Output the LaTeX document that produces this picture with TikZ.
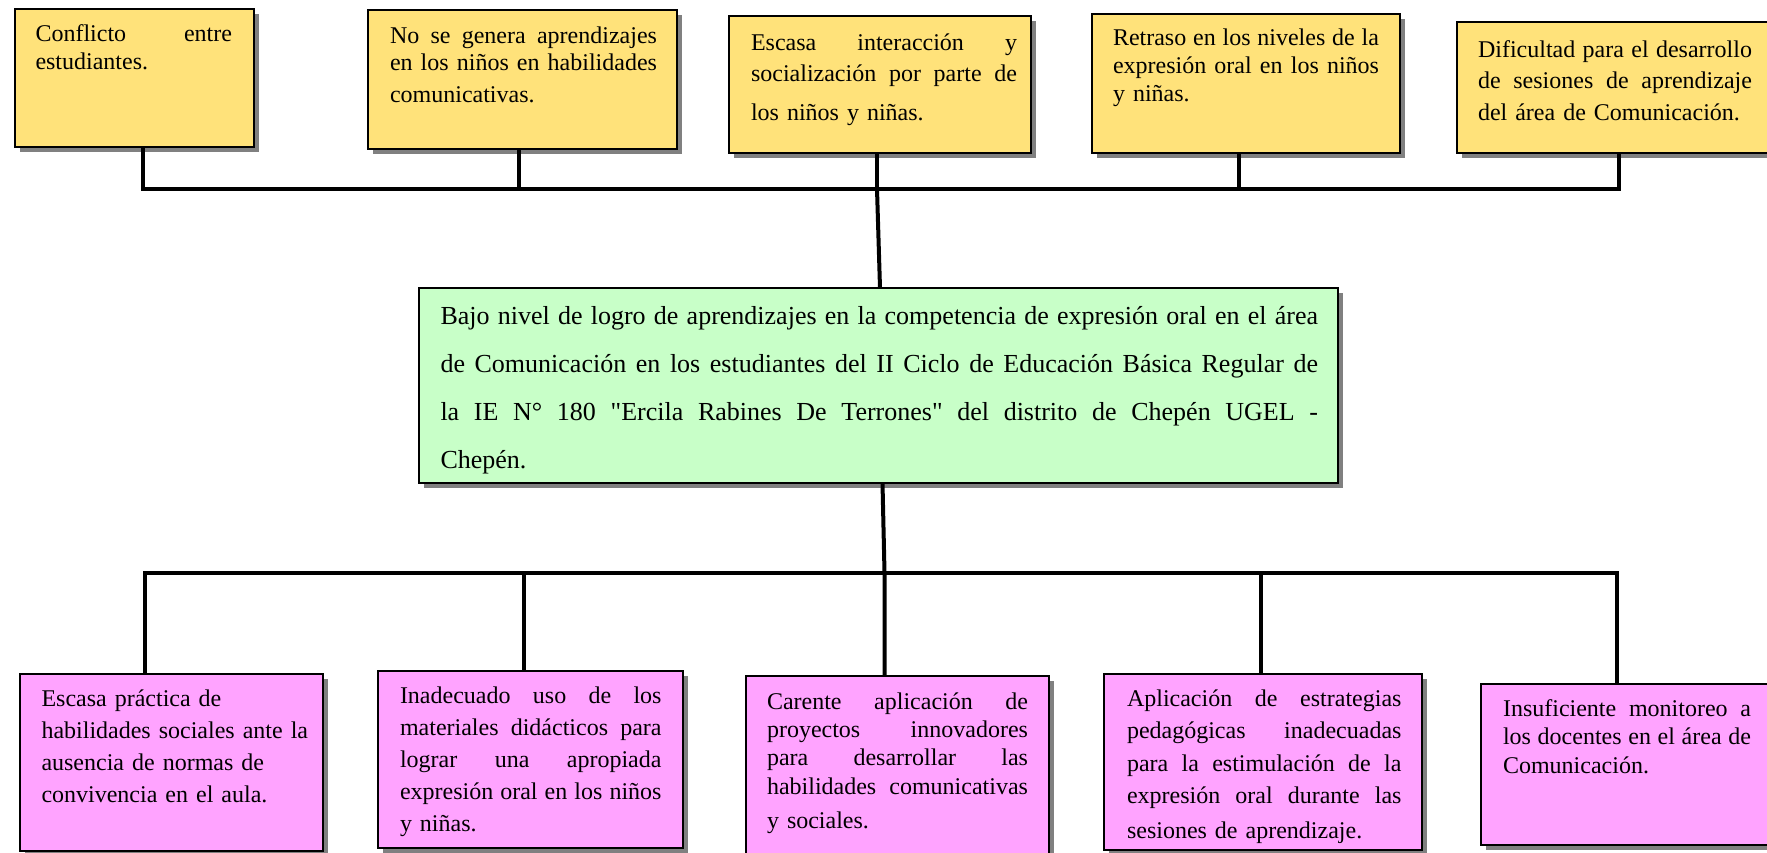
\documentclass[tikz,border=0pt]{standalone}
\usepackage{fontspec}
\setmainfont{Liberation Serif}[Ligatures=TeXOff]
\usetikzlibrary{shadows}
\definecolor{yel}{RGB}{255,226,122}
\definecolor{grn}{RGB}{200,255,200}
\definecolor{pnk}{RGB}{255,163,255}
\definecolor{shd}{RGB}{128,128,128}
\newcommand{\J}[1]{\leavevmode\hbox to\hsize{\spaceskip=0.25em plus 1fil minus 0.1em\xspaceskip=\spaceskip #1}}
\begin{document}
\begin{tikzpicture}[x=0.5pt,y=-0.5pt,
  box/.style={draw=black,line width=0.9pt,anchor=north west,inner sep=0pt,outer sep=0pt,
    drop shadow={shadow xshift=2.5pt,shadow yshift=-2.5pt,fill=shd,opacity=1}},
  lbl/.style={anchor=base west,inner sep=0pt,outer sep=0pt,align=left,font=\fontsize{12pt}{#1}\selectfont},
  conn/.style={line width=2pt},
  bus/.style={line width=2pt,line cap=rect}]
\fill[white] (0,0) rectangle (1767,852);
\useasboundingbox (0,0) rectangle (1767,852);

% top boxes
\node[box,fill=yel,minimum width=119.5pt,minimum height=69pt] (t1) at (15,9) {};
\node[box,fill=yel,minimum width=154.5pt,minimum height=69.5pt] (t2) at (368,10) {};
\node[box,fill=yel,minimum width=151pt,minimum height=68.5pt] (t3) at (729,16) {};
\node[box,fill=yel,minimum width=154pt,minimum height=69.5pt] (t4) at (1092,14) {};
\node[box,fill=yel,minimum width=171.5pt,minimum height=65.5pt] (t5) at (1457,22) {};

% central box
\node[box,fill=grn,minimum width=459.5pt,minimum height=97.5pt] (c) at (419,288) {};

% bottom boxes
\node[box,fill=pnk,minimum width=151.5pt,minimum height=88.5pt] (m1) at (20,674) {};
\node[box,fill=pnk,minimum width=152.5pt,minimum height=88.5pt] (m2) at (378,671) {};
\node[box,fill=pnk,minimum width=151.5pt,minimum height=97pt] (m3) at (746,676) {};
\node[box,fill=pnk,minimum width=159pt,minimum height=88pt] (m4) at (1104,674) {};
\node[box,fill=pnk,minimum width=159.5pt,minimum height=80.5pt] (m5) at (1481,684) {};

% labels
\node[lbl=14.4pt,text width=98.25pt] (lt1) at (35.5,41) {\J{Conflicto entre}\\estudiantes.};
\node[lbl=13.8pt,text width=133.5pt] (lt2) at (390,43) {\J{No se genera aprendizajes}\\\J{en los niños en habilidades}\\[2pt]comunicativas.};
\node[lbl=15.8pt,text width=133pt] (lt3) at (751,50) {\J{Escasa interacción y}\\\J{socialización por parte de}\\[3.5pt]los niños y niñas.};
\node[lbl=14pt,text width=133pt] (lt4) at (1113,45.5) {\J{Retraso en los niveles de la}\\\J{expresión oral en los niños}\\y niñas.};
\node[lbl=15.75pt,text width=137pt] (lt5) at (1478,57) {\J{Dificultad para el desarrollo}\\\J{de sesiones de aprendizaje}\\del área de Comunicación.};

\node[lbl=24pt,text width=438.75pt,font=\fontsize{13pt}{24pt}\selectfont] (lc) at (440.5,324) {\J{Bajo nivel de logro de aprendizajes en la competencia de expresión oral en el área}\\\J{de Comunicación en los estudiantes del II Ciclo de Educación Básica Regular de}\\\J{la IE N° 180 "Ercila Rabines De Terrones" del distrito de Chepén UGEL -}\\Chepén.};

\node[lbl=16pt,text width=140pt] (lm1) at (41.5,706) {Escasa práctica de\\habilidades sociales ante la\\ausencia de normas de\\convivencia en el aula.};
\node[lbl=16pt,text width=130.75pt] (lm2) at (400,703) {\J{Inadecuado uso de los}\\\J{materiales didácticos para}\\\J{lograr una apropiada}\\\J{expresión oral en los niños}\\y niñas.};
\node[lbl=14.2pt,text width=130.5pt] (lm3) at (767,709) {\J{Carente aplicación de}\\\J{proyectos innovadores}\\\J{para desarrollar las}\\\J{habilidades comunicativas}\\[3pt]y sociales.};
\node[lbl=16.3pt,text width=137.25pt] (lm4) at (1127,706) {\J{Aplicación de estrategias}\\\J{pedagógicas inadecuadas}\\\J{para la estimulación de la}\\\J{expresión oral durante las}\\[1.2pt]sesiones de aprendizaje.};
\node[lbl=14.3pt,text width=124pt] (lm5) at (1503,716) {\J{Insuficiente monitoreo a}\\\J{los docentes en el área de}\\Comunicación.};

% top connectors
\coordinate (a1) at (142.7,189);
\coordinate (a2) at (518.6,189);
\coordinate (a3) at (877,189);
\coordinate (a4) at (1238.5,189);
\coordinate (a5) at (1618.6,189);
\draw[bus] (a1) -- (a5);
\draw[conn] (t1.south -| a1) -- (a1);
\draw[conn] (t2.south -| a2) -- (a2);
\draw[conn] (t3.south -| a3) -- (a3);
\draw[conn] (t4.south -| a4) -- (a4);
\draw[conn] (t5.south -| a5) -- (a5);
\draw[conn] (a3) -- ([xshift=0.75pt]c.north);

% bottom connectors
\coordinate (b1) at (145.4,572.5);
\coordinate (b2) at (524.3,572.5);
\coordinate (b3) at (884.5,572.5);
\coordinate (b4) at (1261.4,572.5);
\coordinate (b5) at (1617.4,572.5);
\draw[bus] (b1) -- (b5);
\draw[conn] ([xshift=2pt]c.south) -- (b3) -- (b3 |- m3.north);
\draw[conn] (b1) -- (b1 |- m1.north);
\draw[conn] (b2) -- (b2 |- m2.north);
\draw[conn] (b4) -- (b4 |- m4.north);
\draw[conn] (b5) -- (b5 |- m5.north);
\end{tikzpicture}
\end{document}
